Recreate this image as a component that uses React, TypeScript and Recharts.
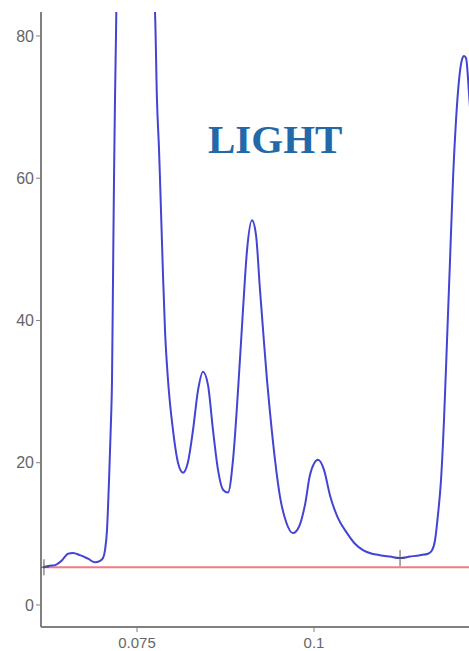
import {
  ComposedChart,
  Line,
  Scatter,
  XAxis,
  YAxis,
} from "recharts";

// signal trace (retention, response)
const signalX = [
  0.06172, 0.06271, 0.06342, 0.06441, 0.06525, 0.06596, 0.06695, 0.06808, 0.06907, 0.06977,
  0.0702, 0.07048, 0.07076, 0.07105, 0.07133, 0.07147, 0.07161, 0.07175, 0.07189, 0.07203,
  0.07218, 0.0724, 0.0732, 0.074, 0.0748, 0.0752, 0.07754, 0.07782, 0.07811, 0.07825,
  0.07867, 0.07896, 0.07938, 0.08008, 0.08079, 0.0815, 0.0822, 0.08291, 0.08362, 0.08432,
  0.08503, 0.08573, 0.08644, 0.08715, 0.08785, 0.08856, 0.08927, 0.08997, 0.09054, 0.09124,
  0.09181, 0.09237, 0.0928, 0.09336, 0.09379, 0.09449, 0.0952, 0.09605, 0.09703, 0.09788,
  0.09873, 0.09944, 0.10056, 0.10141, 0.10226, 0.10339, 0.10466, 0.10579, 0.10692, 0.10819,
  0.10932, 0.11073, 0.11215, 0.11356, 0.11497, 0.1161, 0.11667, 0.11709, 0.11751, 0.11794,
  0.11836, 0.11879, 0.11921, 0.11963, 0.12006, 0.12048, 0.1209, 0.12119, 0.12147, 0.12189,
  0.1225,
];
const signalY = [
  5.3, 5.5, 5.6, 6.3, 7.2, 7.3, 7.0, 6.5, 6.0, 6.2,
  6.6, 7.7, 10.5, 17.6, 26.0, 31.6, 45.7, 59.8, 71.0, 80.0,
  90.7, 105, 135, 145, 130, 110, 83.4, 71.0, 64.0, 59.8,
  46.5, 38.5, 31.6, 24.6, 20.0, 18.6, 20.1, 24.6, 30.2, 32.8,
  30.9, 24.6, 19.0, 16.2, 15.8, 20.4, 30.2, 41.5, 49.9, 54.1,
  52.0, 44.3, 38.7, 31.6, 27.0, 20.4, 15.2, 11.7, 10.1, 11.0,
  14.1, 18.3, 20.4, 19.0, 15.4, 12.2, 10.1, 8.6, 7.7, 7.2,
  7.0, 6.8, 6.6, 6.8, 7.0, 7.2, 7.7, 9.1, 12.7, 17.6,
  26.0, 37.3, 48.5, 59.8, 68.2, 73.8, 76.7, 77.2, 76.9, 72.0,
  62.0,
];

// integration baseline and its start/end marks
const baselineX = [0.06186, 0.1225];
const baselineY = [5.3, 5.3];
const markX = [0.06186, 0.11215];
const markY = [5.3, 6.6];

const xTicks = [0.075, 0.1];
const yTicks = [0, 20, 40, 60, 80];

const signal = signalX.map((x, i) => ({ x, y: signalY[i] }));
const baseline = baselineX.map((x, i) => ({ x, y: baselineY[i] }));
const marks = markX.map((x, i) => ({ x, y: markY[i] }));

const tickStyle = { fill: "#666", fontSize: 15, fontFamily: "Liberation Sans, Arial, sans-serif" };

function PlusMark(props: any) {
  const { cx, cy } = props;
  return (
    <g stroke="#555" strokeWidth={1}>
      <line x1={cx} x2={cx} y1={cy - 8} y2={cy + 8} />
      <line x1={cx - 5} x2={cx + 5} y1={cy} y2={cy} />
    </g>
  );
}

export default function App() {
  return (
    <div style={{ position: "absolute", left: 0, top: 0, width: 469, height: 651, background: "#fff" }}>
      <ComposedChart
        width={469}
        height={651}
        margin={{ top: 12, right: 0, bottom: 0, left: 0 }}
      >
        <XAxis
          dataKey="x"
          type="number"
          domain={[0.06144, 0.12189]}
          allowDataOverflow
          ticks={xTicks}
          tickFormatter={(v: number) => String(v)}
          height={24}
          tickSize={5}
          tickMargin={5}
          tick={tickStyle}
          axisLine={{ stroke: "#808080", strokeWidth: 2 }}
          tickLine={{ stroke: "#808080" }}
        />
        <YAxis
          dataKey="y"
          type="number"
          domain={[-3.1, 83.37]}
          allowDataOverflow
          ticks={yTicks}
          width={41}
          tickSize={5}
          tickMargin={2}
          tick={{ ...tickStyle, fontSize: 16 }}
          axisLine={{ stroke: "#808080", strokeWidth: 2 }}
          tickLine={{ stroke: "#808080" }}
        />
        <Line
          data={baseline}
          dataKey="y"
          type="linear"
          stroke="#f27a85"
          strokeWidth={2}
          dot={false}
          isAnimationActive={false}
        />
        <Line
          data={signal}
          dataKey="y"
          type="monotone"
          stroke="#4343d4"
          strokeWidth={2}
          dot={false}
          isAnimationActive={false}
        />
        <Scatter data={marks} dataKey="y" shape={<PlusMark />} isAnimationActive={false} />
      </ComposedChart>
      <div
        style={{
          position: "absolute",
          left: 208,
          top: 119,
          fontFamily: "Liberation Serif, Times New Roman, serif",
          fontWeight: "bold",
          fontSize: 41,
          lineHeight: "41px",
          color: "#2169a8",
        }}
      >
        LIGHT
      </div>
    </div>
  );
}
